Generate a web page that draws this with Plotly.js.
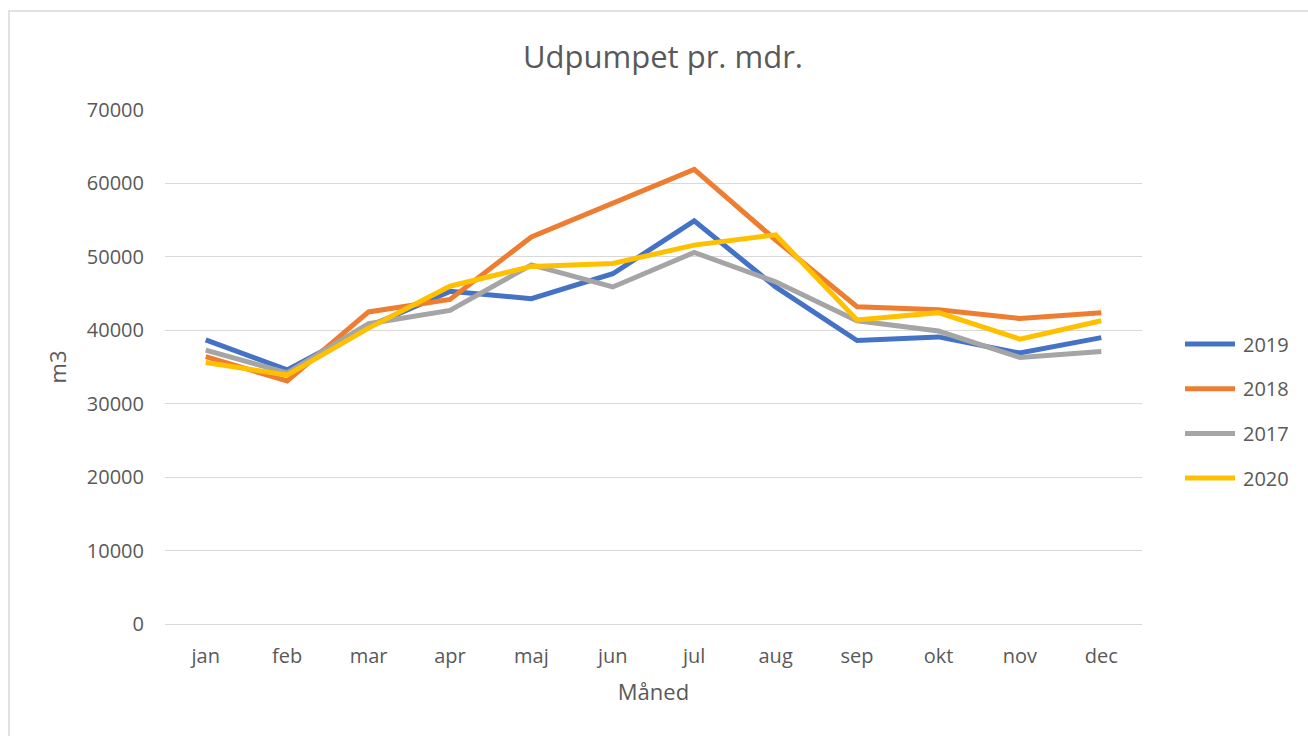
<!DOCTYPE html>
<html>
<head>
<meta charset="utf-8">
<script src="https://cdn.plot.ly/plotly-3.0.1.min.js"></script>
<style>html,body{margin:0;padding:0;background:#fff;}#chart{width:1308px;height:736px;}</style>
</head>
<body>
<div id="chart"></div>
<script>
const months = ["jan","feb","mar","apr","maj","jun","jul","aug","sep","okt","nov","dec"];
const seriesNames = ["2019","2018","2017","2020"];
const v2019 = [38700, 34600, 40500, 45300, 44300, 47700, 54900, 45900, 38600, 39100, 36900, 39000];
const v2018 = [36400, 33100, 42500, 44200, 52700, 57300, 61900, 52300, 43200, 42800, 41600, 42400];
const v2017 = [37300, 34200, 40900, 42700, 48900, 45900, 50600, 46600, 41300, 39900, 36300, 37100];
const v2020 = [35600, 33900, 40300, 46000, 48700, 49100, 51600, 53000, 41400, 42400, 38800, 41300];
const colors = ["#4472C4", "#ED7D31", "#A5A5A5", "#FFC000"];
const values = [v2019, v2018, v2017, v2020];

const font = "Open Sans, Noto Sans, sans-serif";
const grey = "#595959";

const traces = values.map((v, i) => ({
  x: months, y: v, type: "scatter", mode: "lines", name: seriesNames[i],
  line: {color: colors[i], width: 5}, hoverinfo: "skip", showlegend: false
}));

// plot area in pixels: left 165, width 977, top 110, height 514
const px = x => (x - 165) / 977;
const py = y => (624 - y) / 514;

const shapes = [{type: "rect", xref: "paper", yref: "paper",
  x0: px(9), x1: px(1320), y0: -1, y1: py(11),
  line: {color: "#d9d9d9", width: 1.5}, fillcolor: "rgba(0,0,0,0)", layer: "below"}];
const annotations = [];
seriesNames.forEach((n, i) => {
  const yy = 344 + i * 44.7;
  shapes.push({type: "line", xref: "paper", yref: "paper", x0: px(1185), x1: px(1235), y0: py(yy), y1: py(yy),
    line: {color: colors[i], width: 5}});
  annotations.push({xref: "paper", yref: "paper", x: px(1241), y: py(yy), xanchor: "left", yanchor: "middle",
    text: n, showarrow: false, font: {family: font, size: 20, color: grey}});
});

const layout = {
  width: 1308, height: 736,
  margin: {l: 165, r: 166, t: 110, b: 112},
  paper_bgcolor: "#fff", plot_bgcolor: "#fff",
  font: {family: font, color: grey, size: 20},
  title: {text: "Udpumpet pr. mdr.", font: {family: font, size: 31, color: grey}, x: 663 / 1308, xanchor: "center", y: 0.922, yanchor: "middle"},
  xaxis: {
    type: "category", range: [-0.5, 11.5], showgrid: false, zeroline: false,
    showline: true, linecolor: "#d9d9d9", linewidth: 1, ticks: "",
    tickfont: {family: font, size: 20, color: grey}, ticklabelstandoff: 14,
    title: {text: "Måned", font: {family: font, size: 22, color: grey}, standoff: 16}
  },
  yaxis: {
    range: [0, 70000], dtick: 10000, showgrid: true, gridcolor: "#d9d9d9", gridwidth: 1,
    zeroline: false, showline: false, ticks: "", tickformat: "d",
    tickfont: {family: font, size: 20, color: grey}, ticklabelstandoff: 20,
    title: {text: "m3", font: {family: font, size: 22, color: grey}, standoff: 14}
  },
  showlegend: false,
  shapes: shapes,
  annotations: annotations
};

Plotly.newPlot("chart", traces, layout, {staticPlot: true, displayModeBar: false});
</script>
</body>
</html>
